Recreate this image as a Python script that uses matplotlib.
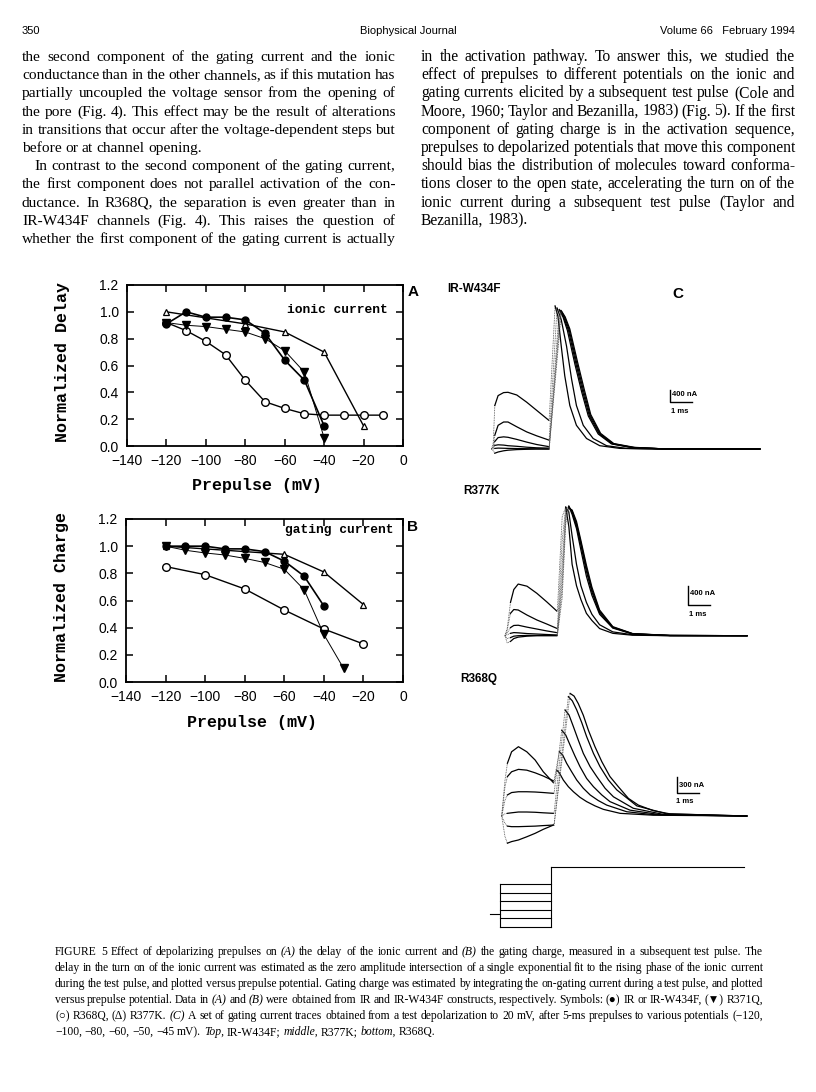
import numpy as np
import matplotlib
matplotlib.use('Agg')
import matplotlib.pyplot as plt
from matplotlib.ticker import FormatStrFormatter

W, H = 816, 1092
plt.rcParams['font.family'] = ['Liberation Sans', 'DejaVu Sans']
SERIF = ['Liberation Serif', 'DejaVu Serif']
MONO = ['Liberation Mono', 'DejaVu Sans Mono']

# ---------------- panel A: delay of the ionic current ----------------
a_ir_x = [-120, -110, -100, -90, -80, -70, -60, -50, -40]
a_ir_y = [0.91, 1.00, 0.96, 0.96, 0.94, 0.84, 0.64, 0.49, 0.15]
a_r371q_x = [-120, -110, -100, -90, -80, -70, -60, -50, -40]
a_r371q_y = [0.92, 0.90, 0.89, 0.87, 0.85, 0.80, 0.71, 0.55, 0.06]
a_r368q_x = [-120, -110, -100, -90, -80, -70, -60, -50, -40, -30, -20, -10]
a_r368q_y = [0.92, 0.86, 0.78, 0.68, 0.49, 0.33, 0.28, 0.24, 0.23, 0.23, 0.23, 0.23]
a_r377k_x = [-120, -80, -60, -40, -20]
a_r377k_y = [1.00, 0.91, 0.85, 0.70, 0.15]

# ---------------- panel B: gating charge ----------------
b_ir_x = [-120, -110, -100, -90, -80, -70, -60, -50, -40]
b_ir_y = [1.00, 1.00, 1.00, 0.98, 0.98, 0.96, 0.89, 0.78, 0.56]
b_r371q_x = [-120, -110, -100, -90, -80, -70, -60, -50, -40, -30]
b_r371q_y = [1.00, 0.97, 0.95, 0.935, 0.91, 0.88, 0.83, 0.68, 0.35, 0.10]
b_r368q_x = [-120, -100, -80, -60, -40, -20]
b_r368q_y = [0.85, 0.79, 0.685, 0.53, 0.39, 0.28]
b_r377k_x = [-120, -60, -40, -20]
b_r377k_y = [1.00, 0.94, 0.81, 0.57]

# ---------------- panel C: current traces (ms, nA) ----------------
# prepulses -45, -50, -60, -80, -100, -120 mV (largest first)
w434f_pre_t = [0, 0.08, 0.15, 0.3, 0.55, 0.75, 1.15, 1.6, 2.05, 2.6]
w434f_pre_i = [
    [0, 200, 1450, 1780, 1880, 1890, 1800, 1560, 1290, 960],
    [0, 100, 460, 790, 900, 900, 740, 570, 440, 300],
    [0, 60, 250, 380, 405, 390, 320, 230, 150, 80],
    [0, 40, 120, 140, 130, 110, 90, 60, 40, 30],
    [0, 0, 20, 30, 25, 20, 15, 10, 5, 0],
    [0, -60, -140, -100, -60, -40, -20, -10, 0, 0],
]
w434f_test_t = [
    [2.62, 2.89, 3.02, 3.17, 3.33, 3.56, 3.86, 4.32, 4.92, 5.83, 7.5, 12.2],
    [2.62, 2.98, 3.17, 3.41, 3.64, 3.86, 4.17, 4.62, 5.23, 6.14, 7.5, 12.2],
    [2.62, 3.08, 3.25, 3.45, 3.8, 4.1, 4.4, 4.85, 5.45, 6.35, 7.8, 12.2],
    [2.62, 3.12, 3.29, 3.5, 3.85, 4.15, 4.45, 4.9, 5.5, 6.4, 7.8, 12.2],
    [2.62, 3.15, 3.32, 3.53, 3.88, 4.18, 4.48, 4.93, 5.53, 6.45, 7.8, 12.2],
    [2.62, 3.18, 3.35, 3.56, 3.91, 4.21, 4.51, 4.96, 5.56, 6.5, 7.8, 12.2],
]
w434f_test_i = [
    [960, 4770, 4420, 3430, 2440, 1450, 790, 350, 110, 20, 0, 0],
    [300, 4700, 4310, 3430, 2330, 1450, 790, 350, 110, 20, 0, 0],
    [80, 4650, 4400, 3950, 2800, 1900, 1100, 500, 170, 50, 5, 0],
    [30, 4600, 4380, 3950, 2800, 1900, 1100, 500, 170, 50, 5, 0],
    [0, 4620, 4400, 3980, 2850, 1950, 1130, 510, 175, 50, 5, 0],
    [0, 4600, 4400, 4000, 2900, 2000, 1150, 520, 180, 55, 5, 0],
]

r377k_pre_t = [0, 0.1, 0.25, 0.4, 0.6, 1.0, 1.45, 1.9, 2.35]
r377k_pre_i = [
    [0, 150, 700, 970, 1085, 1040, 890, 710, 520],
    [0, 120, 470, 550, 540, 434, 330, 245, 155],
    [0, 60, 170, 215, 220, 180, 140, 100, 65],
    [0, 20, 50, 65, 60, 45, 35, 25, 15],
    [0, -60, -40, -10, 0, 5, 5, 5, 5],
    [0, -150, -120, -60, -30, -10, 0, 0, 0],
]
r377k_test_t = [2.38, 2.6, 2.76, 2.9, 3.05, 3.25, 3.45, 3.7, 3.95, 4.3, 4.9, 5.8, 7.5, 11.0]
r377k_test_i = [
    [520, 2500, 2700, 2300, 1500, 1050, 760, 470, 320, 150, 50, 10, 0, 0],
    [155, 2000, 2700, 2600, 2100, 1500, 1050, 700, 450, 230, 80, 20, 0, 0],
    [65, 1500, 2650, 2720, 2550, 2250, 1800, 1250, 850, 450, 160, 35, 5, 0],
    [15, 1200, 2550, 2720, 2600, 2300, 1900, 1350, 920, 480, 170, 40, 5, 0],
    [5, 1000, 2450, 2700, 2620, 2350, 1950, 1420, 970, 510, 180, 40, 5, 0],
    [0, 800, 2350, 2680, 2640, 2400, 2000, 1480, 1020, 540, 190, 45, 5, 0],
]

r368q_pre_t = [0, 0.15, 0.26, 0.45, 0.76, 1.14, 1.52, 1.89, 2.35]
r368q_pre_i = [
    [0, 675, 990, 1205, 1300, 1205, 1050, 830, 625],
    [0, 550, 740, 830, 875, 860, 810, 750, 660],
    [0, 300, 395, 440, 455, 455, 450, 440, 425],
    [0, 40, 50, 60, 75, 75, 70, 60, 50],
    [0, -140, -190, -200, -200, -195, -190, -180, -170],
    [0, -390, -510, -480, -450, -390, -325, -250, -170],
]
r368q_test_t = [
    [2.38, 2.5, 2.62, 2.8, 3.03, 3.26, 3.56, 3.86, 4.24, 4.62, 5.38, 6.89, 11.14],
    [2.38, 2.62, 2.77, 2.95, 3.18, 3.41, 3.71, 4.02, 4.39, 4.77, 5.68, 6.89, 11.14],
    [2.38, 2.73, 2.91, 3.11, 3.33, 3.56, 3.86, 4.17, 4.55, 4.92, 5.83, 7.2, 11.14],
    [2.38, 2.88, 3.06, 3.26, 3.48, 3.71, 4.02, 4.32, 4.7, 5.08, 5.98, 7.35, 11.14],
    [2.38, 3.03, 3.21, 3.41, 3.64, 3.86, 4.17, 4.47, 4.85, 5.23, 6.14, 7.5, 11.14],
    [2.38, 3.11, 3.29, 3.48, 3.71, 3.94, 4.24, 4.55, 4.92, 5.3, 5.76, 6.21, 6.89, 7.65, 11.14],
]
r368q_test_i = [
    [625, 860, 810, 675, 550, 455, 350, 270, 190, 125, 50, 15, 0],
    [660, 1205, 1145, 990, 830, 675, 520, 395, 290, 205, 80, 25, 0],
    [425, 1610, 1520, 1330, 1125, 925, 705, 550, 395, 270, 110, 25, 0],
    [50, 1990, 1895, 1675, 1425, 1175, 925, 740, 520, 360, 145, 30, 0],
    [-170, 2240, 2160, 1990, 1750, 1490, 1175, 925, 675, 490, 190, 40, 0],
    [-170, 2300, 2250, 2110, 1890, 1610, 1300, 1020, 740, 550, 330, 205, 100, 40, 0],
]

# voltage protocol (mV, ms)
protocol_pre_mv = [-120, -100, -80, -60, -40, -20]
protocol_hold_mv = -90
protocol_test_mv = 20
protocol_pre_ms = 2.3
protocol_end_ms = 11.1
protocol_hold_ms = -0.45

# ---------------- page text ----------------
left_col = [
    "the second component of the gating current and the ionic",
    "conductance than in the other channels, as if this mutation has",
    "partially uncoupled the voltage sensor from the opening of",
    "the pore (Fig. 4). This effect may be the result of alterations",
    "in transitions that occur after the voltage-dependent steps but",
    "before or at channel opening.",
    "In contrast to the second component of the gating current,",
    "the first component does not parallel activation of the con-",
    "ductance. In R368Q, the separation is even greater than in",
    "IR-W434F channels (Fig. 4). This raises the question of",
    "whether the first component of the gating current is actually",
]
right_col = [
    "in the activation pathway. To answer this, we studied the",
    "effect of prepulses to different potentials on the ionic and",
    "gating currents elicited by a subsequent test pulse (Cole and",
    "Moore, 1960; Taylor and Bezanilla, 1983) (Fig. 5). If the first",
    "component of gating charge is in the activation sequence,",
    "prepulses to depolarized potentials that move this component",
    "should bias the distribution of molecules toward conforma-",
    "tions closer to the open state, accelerating the turn on of the",
    "ionic current during a subsequent test pulse (Taylor and",
    "Bezanilla, 1983).",
]
caption = [
    "FIGURE 5 Effect of depolarizing prepulses on _(A) the delay of the ionic current and _(B) the gating charge, measured in a subsequent test pulse. The",
    "delay in the turn on of the ionic current was estimated as the zero amplitude intersection of a single exponential fit to the rising phase of the ionic current",
    "during the test pulse, and plotted versus prepulse potential. Gating charge was estimated by integrating the on-gating current during a test pulse, and plotted",
    "versus prepulse potential. Data in _(A) and _(B) were obtained from IR and IR-W434F constructs, respectively. Symbols: (\u25cf) IR or IR-W434F, (\u25bc) R371Q,",
    "(\u25cb) R368Q, (\u0394) R377K. _(C) A set of gating current traces obtained from a test depolarization to 20 mV, after 5-ms prepulses to various potentials (\u2212120,",
    "\u2212100, \u221280, \u221260, \u221250, \u221245 mV). _Top, IR-W434F; _middle, R377K; _bottom, R368Q.",
]

fig = plt.figure(figsize=(W / 100, H / 100), dpi=100)
page = fig.add_axes([0, 0, 1, 1])
page.set_xlim(0, W)
page.set_ylim(H, 0)
page.axis('off')


def px_axes(left, top, right, bottom):
    return fig.add_axes([left / W, 1 - bottom / H, (right - left) / W, (bottom - top) / H])


# header
page.text(22, 34, "350", fontsize=8, va='baseline')
page.text(408, 34, "Biophysical Journal", fontsize=8, va='baseline', ha='center')
page.text(795, 34, "Volume 66   February 1994", fontsize=8, va='baseline', ha='right')

blocks = []


def add_block(lines, x0, x1, y0, dy, size, ragged, indent=None):
    rows = []
    for n, line in enumerate(lines):
        row = []
        for w in line.split():
            it = w.startswith('_')
            row.append(page.text(x0, y0 + n * dy, w[1:] if it else w, fontsize=size,
                                 family=SERIF, style='italic' if it else 'normal',
                                 va='baseline'))
        rows.append(row)
    blocks.append((rows, x0, x1, size, ragged, indent or {}))


add_block(left_col, 22, 395, 61, 18.2, 13, [5], {6: 12})
add_block(right_col, 421, 795, 61, 18.2, 13, [9])
add_block(caption, 55, 763, 955, 16, 10, [5])

# ---------------- panels A and B ----------------
ir_style = dict(color='k', lw=1.2, marker='o', ms=5, mfc='k', mec='k', clip_on=False)
r371q_style = dict(color='k', lw=0.7, marker='v', ms=6, mfc='k', mec='k', clip_on=False)
r368q_style = dict(color='k', lw=1.0, marker='o', ms=5.5, mfc='white', mec='k', mew=1.0, clip_on=False)
r377k_style = dict(color='k', lw=1.0, marker='^', ms=5, mfc='white', mec='k', mew=0.9, clip_on=False)


def summary_panel(ax, series, ylabel, note, note_xy, lab_x):
    for x, y, st in series:
        ax.plot(x, y, **st)
    ax.set_xlim(-140, 0)
    ax.set_ylim(0, 1.2)
    ax.set_xticks(range(-140, 1, 20))
    ax.set_yticks([0, 0.2, 0.4, 0.6, 0.8, 1.0, 1.2])
    ax.yaxis.set_major_formatter(FormatStrFormatter('%.1f'))
    ax.tick_params(direction='in', top=True, right=True, length=5, width=1.1,
                   labelsize=10, pad=6)
    for s in ax.spines.values():
        s.set_linewidth(1.3)
    ax.set_ylabel(ylabel, family=MONO, fontsize=12, fontweight='bold')
    ax.set_xlabel("Prepulse (mV)", family=MONO, fontsize=12, fontweight='bold')
    ax.yaxis.set_label_coords(-0.205, 0.52)
    ax.xaxis.set_label_coords(lab_x, -0.2)
    ax.text(note_xy[0], note_xy[1], note, transform=ax.transAxes, ha='right', va='center',
            family=MONO, fontsize=9.3, fontweight='bold')


ax_a = px_axes(127, 285, 403, 446)
summary_panel(ax_a, [(a_r377k_x, a_r377k_y, r377k_style), (a_r368q_x, a_r368q_y, r368q_style),
                     (a_r371q_x, a_r371q_y, r371q_style), (a_ir_x, a_ir_y, ir_style)],
              "Normalized Delay", "ionic current", (0.946, 0.845), 0.47)
ax_b = px_axes(126, 519, 403, 682)
summary_panel(ax_b, [(b_r377k_x, b_r377k_y, r377k_style), (b_r368q_x, b_r368q_y, r368q_style),
                     (b_r371q_x, b_r371q_y, r371q_style), (b_ir_x, b_ir_y, ir_style)],
              "Normalized Charge", "gating current", (0.965, 0.935), 0.455)

page.text(408, 292, "A", fontsize=11, fontweight='bold', va='center')
page.text(407, 527, "B", fontsize=11, fontweight='bold', va='center')

# ---------------- panel C ----------------
page.text(678, 294, "C", fontsize=11, fontweight='bold', va='center', ha='center')
page.text(447, 289, "IR-W434F", fontsize=8.5, fontweight='bold', va='center')
page.text(463, 491, "R377K", fontsize=8.5, fontweight='bold', va='center')
page.text(460, 679, "R368Q", fontsize=8.5, fontweight='bold', va='center')


def trace_axes(t0_px, base_px, px_t, px_i, left, top, right, bottom):
    ax = px_axes(left, top, right, bottom)
    ax.set_xlim((left - t0_px) / px_t, (right - t0_px) / px_t)
    ax.set_ylim((base_px - bottom) / px_i, (base_px - top) / px_i)
    ax.axis('off')
    return ax


def draw_traces(ax, pre_t, pre_i, test_t, test_i):
    dot = dict(color='0.3', lw=0.6, ls=(0, (1, 1)))
    for k in range(len(pre_i)):
        ax.plot(pre_t[:3], pre_i[k][:3], **dot)
        ax.plot(pre_t[2:], pre_i[k][2:], color='k', lw=0.9)
        tt = test_t[k] if isinstance(test_t[0], list) else test_t
        ii = test_i[k]
        p = int(np.argmax(ii))
        ax.plot([pre_t[-1]] + tt[:p + 1], [pre_i[k][-1]] + ii[:p + 1], **dot)
        ax.plot(tt[p:], ii[p:], color='k', lw=0.9)


def scale_bar(ax, t, i, di, label, lab_i, ms_t, ms_i):
    ax.plot([t, t, t + 1], [i + di, i, i], color='k', lw=1.0)
    ax.text(t + 0.08, lab_i, label, fontsize=5.5, fontweight='bold', va='center')
    ax.text(ms_t, ms_i, "1 ms", fontsize=5.5, fontweight='bold', va='center')


ax_c1 = trace_axes(491.5, 449, 22, 0.03, 480, 295, 770, 462)
draw_traces(ax_c1, w434f_pre_t, w434f_pre_i, w434f_test_t, w434f_test_i)
scale_bar(ax_c1, 8.11, 1567, 400, "400 nA", 1833, 8.15, 1243)

ax_c2 = trace_axes(505, 635.7, 22, 0.0476, 490, 495, 760, 650)
draw_traces(ax_c2, r377k_pre_t, r377k_pre_i, r377k_test_t, r377k_test_i)
scale_bar(ax_c2, 8.32, 645, 400, "400 nA", 897, 8.36, 435)

ax_c3 = trace_axes(501.7, 816, 22, 0.0533, 480, 685, 760, 850)
draw_traces(ax_c3, r368q_pre_t, r368q_pre_i, r368q_test_t, r368q_test_i)
scale_bar(ax_c3, 7.97, 431, 300, "300 nA", 581, 7.92, 281)

# voltage protocol
ax_v = trace_axes(500, 875.7, 22, 0.425, 480, 855, 760, 935)
lo, hi = min(protocol_pre_mv), max(protocol_pre_mv)
ax_v.plot([protocol_hold_ms, 0], [protocol_hold_mv] * 2, color='k', lw=0.8)
ax_v.plot([0, 0], [lo, hi], color='k', lw=0.8)
for v in protocol_pre_mv:
    ax_v.plot([0, protocol_pre_ms], [v, v], color='k', lw=0.8)
ax_v.plot([protocol_pre_ms, protocol_pre_ms], [lo, protocol_test_mv], color='k', lw=0.8)
ax_v.plot([protocol_pre_ms, protocol_end_ms], [protocol_test_mv] * 2, color='k', lw=0.8)

# ---------------- justify the text blocks ----------------
fig.canvas.draw()
rend = fig.canvas.get_renderer()
for rows, x0, x1, size, ragged, indent in blocks:
    widths = [[t.get_window_extent(rend).width for t in row] for row in rows]
    min_gap = 0.2 * size * 100 / 72
    ratio = max((sum(w) + min_gap * (len(w) - 1)) / (x1 - x0 - indent.get(n, 0))
                for n, w in enumerate(widths) if n not in ragged)
    scale = 1.0
    if ratio > 1:
        scale = 1 / ratio
        for row in rows:
            for t in row:
                t.set_fontsize(size * scale)
    space = 0.25 * size * scale * 100 / 72
    for n, (row, w) in enumerate(zip(rows, widths)):
        w = [v * scale for v in w]
        xs = x0 + indent.get(n, 0)
        gap = space if (n in ragged or len(w) < 2) else (x1 - xs - sum(w)) / (len(w) - 1)
        x = xs
        for t, v in zip(row, w):
            t.set_x(x)
            x += v + gap

fig.savefig("out.png", dpi=100)
